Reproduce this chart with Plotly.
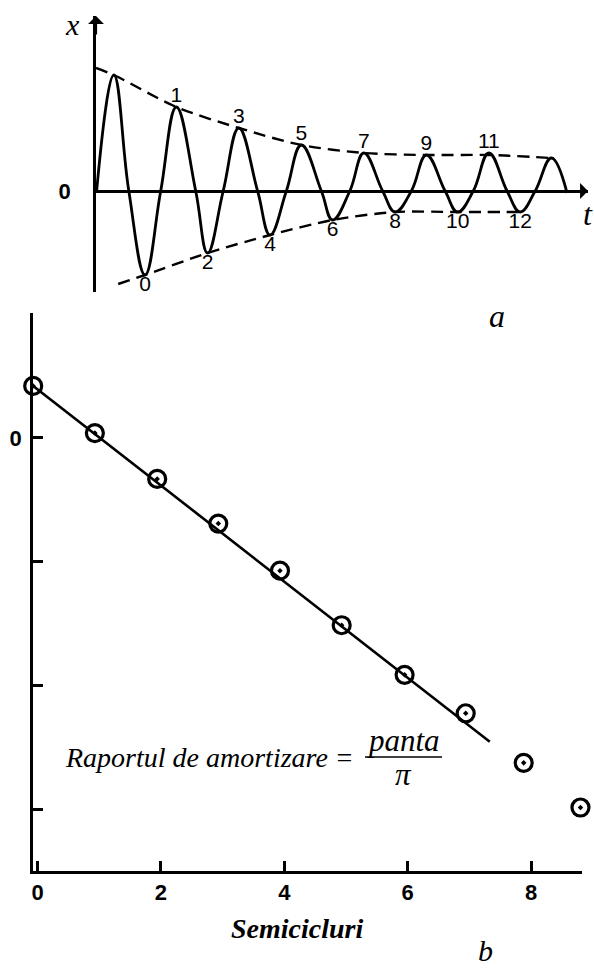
import plotly.graph_objects as go

# ---------------- data: panel a (damped oscillation) ----------------
# extrema (half-cycle index k, amplitude) ; k = -1 and 13 are unlabeled
peak_t = [-1, 1, 3, 5, 7, 9, 11, 13]
peak_x = [11.6, 8.4, 6.3, 4.6, 3.8, 3.6, 3.8, 3.3]
trough_t = [0, 2, 4, 6, 8, 10, 12]
trough_x = [-8.4, -6.2, -4.4, -2.9, -2.1, -2.1, -2.1]
# zero crossings of the trace (plus start and end of the drawn curve)
cross_t = [-1.55, -0.52, 0.5, 1.62, 2.5, 3.6, 4.52, 5.64, 6.55, 7.6, 8.52, 9.6, 10.5, 11.58, 12.48]
cross_x = [0.0] * len(cross_t)
end_t = [13.5]
end_x = [-0.2]

upper_env_t = [-1.57, -1, 1, 3, 5, 7, 9, 11, 13]
upper_env_x = [12.3, 11.6, 8.4, 6.3, 4.6, 3.8, 3.6, 3.6, 3.3]
lower_env_t = [-0.86, 0, 2, 4, 6, 8, 10, 12]
lower_env_x = [-9.3, -8.4, -6.2, -4.4, -2.9, -2.1, -2.1, -2.1]

label_up = ["1", "3", "5", "7", "9", "11"]
label_down = ["0", "2", "4", "6", "8", "10", "12"]

# ---------------- data: panel b (log decrement) ----------------
semicycles = [-0.07, 0.93, 1.94, 2.93, 3.93, 4.93, 5.95, 6.94, 7.88, 8.8]
log_amp = [0.42, 0.04, -0.33, -0.69, -1.07, -1.51, -1.91, -2.22, -2.62, -2.98]
fit_x = [-0.07, 7.33]
fit_y = [0.42, -2.45]
b_xticks = [0, 2, 4, 6, 8]
b_yticks = [1, 0, -1, -2, -3]
b_yticktext = ["", "0", "", "", ""]

W, H = 594, 968
def px(x):
    return x / W
def py(y):
    return 1 - y / H

SERIF = "'Liberation Serif', 'Times New Roman', Times, 'DejaVu Serif', serif"
SANS = "'Liberation Sans', Arial, Helvetica, 'DejaVu Sans', sans-serif"
BLACK = "#000000"

# build the waveform point sequence from extrema + crossings
pts = sorted(zip(peak_t + trough_t + cross_t + end_t,
                 peak_x + trough_x + cross_x + end_x))
wave_t = [p[0] for p in pts]
wave_x = [p[1] for p in pts]

fig = go.Figure()

# ---- panel a ----
fig.add_trace(go.Scatter(x=wave_t, y=wave_x, mode="lines",
                         line=dict(color=BLACK, width=2.8, shape="spline", smoothing=1.2),
                         xaxis="x", yaxis="y", hoverinfo="skip"))
fig.add_trace(go.Scatter(x=upper_env_t, y=upper_env_x, mode="lines",
                         line=dict(color=BLACK, width=2.4, dash="12px,7px", shape="spline", smoothing=0.8),
                         xaxis="x", yaxis="y", hoverinfo="skip"))
fig.add_trace(go.Scatter(x=lower_env_t, y=lower_env_x, mode="lines",
                         line=dict(color=BLACK, width=2.4, dash="12px,7px", shape="spline", smoothing=0.8),
                         xaxis="x", yaxis="y", hoverinfo="skip"))
fig.add_trace(go.Scatter(x=peak_t[1:-1], y=peak_x[1:-1], mode="text", text=label_up,
                         textposition="top center",
                         textfont=dict(family=SANS, size=21, color=BLACK),
                         xaxis="x", yaxis="y", cliponaxis=False, hoverinfo="skip"))
fig.add_trace(go.Scatter(x=trough_t, y=trough_x, mode="text", text=label_down,
                         textposition="bottom center",
                         textfont=dict(family=SANS, size=21, color=BLACK),
                         xaxis="x", yaxis="y", cliponaxis=False, hoverinfo="skip"))

# ---- panel b ----
fig.add_trace(go.Scatter(x=fit_x, y=fit_y, mode="lines",
                         line=dict(color=BLACK, width=2.6),
                         xaxis="x2", yaxis="y2", hoverinfo="skip"))
fig.add_trace(go.Scatter(x=semicycles, y=log_amp, mode="markers",
                         marker=dict(symbol="circle-open-dot", size=17, color=BLACK,
                                     line=dict(color=BLACK, width=3.2)),
                         xaxis="x2", yaxis="y2", cliponaxis=False, hoverinfo="skip"))

fig.update_layout(
    width=W, height=H,
    margin=dict(l=0, r=0, t=0, b=0),
    paper_bgcolor="white", plot_bgcolor="rgba(0,0,0,0)",
    showlegend=False,
    font=dict(family=SANS, color=BLACK),
    xaxis=dict(domain=[px(96), px(588)], range=[-1.57, 14.17], visible=False,
               anchor="y"),
    yaxis=dict(domain=[py(292), py(16)], range=[-10.1, 17.5], anchor="x",
               showline=True, linecolor=BLACK, linewidth=2.6,
               zeroline=True, zerolinecolor=BLACK, zerolinewidth=2.6,
               showgrid=False, ticks="", tickvals=[0], ticktext=["0"],
               tickfont=dict(family=SANS, size=22, color=BLACK, weight="bold"),
               ticklabelstandoff=18, automargin=False),
    xaxis2=dict(domain=[px(33), px(582)], range=[-0.073, 8.825], anchor="y2",
                showline=True, linecolor=BLACK, linewidth=2.8,
                showgrid=False, zeroline=False,
                ticks="inside", ticklen=10, tickwidth=2.5, tickcolor=BLACK,
                tickvals=b_xticks,
                tickfont=dict(family=SANS, size=22, color=BLACK, weight="bold"),
                automargin=False),
    yaxis2=dict(domain=[py(871), py(313)], range=[-3.492, 1.008], anchor="x2",
                showline=True, linecolor=BLACK, linewidth=2.8,
                showgrid=False, zeroline=False,
                ticks="inside", ticklen=10, tickwidth=2.5, tickcolor=BLACK,
                tickvals=b_yticks, ticktext=b_yticktext,
                tickfont=dict(family=SANS, size=22, color=BLACK, weight="bold"),
                ticklabelstandoff=4, automargin=False),
)

annotations = [
    # axis arrowheads (panel a)
    dict(x=0, y=1, xref="x domain", yref="y domain", ax=0, ay=20, text="",
         showarrow=True, arrowhead=1, arrowsize=1.2, arrowwidth=2.2, arrowcolor=BLACK),
    dict(x=1, y=0, xref="x domain", yref="y", ax=-18, ay=0, text="",
         showarrow=True, arrowhead=1, arrowsize=1.2, arrowwidth=2.2, arrowcolor=BLACK),
    dict(x=px(72), y=py(24), text="x", font=dict(family=SERIF, size=30, style="italic")),
    dict(x=px(588), y=py(214), text="t", font=dict(family=SERIF, size=32, style="italic")),
    dict(x=px(497), y=py(316), text="a", font=dict(family=SERIF, size=32, style="italic")),
    dict(x=px(485), y=py(950), text="b", font=dict(family=SERIF, size=30, style="italic")),
    dict(x=px(297), y=py(928), text="Semicicluri",
         font=dict(family=SERIF, size=28, style="italic", weight="bold")),
    dict(x=px(63), y=py(757), xanchor="left", text="Raportul de amortizare =",
         font=dict(family=SERIF, size=28, style="italic")),
    dict(x=px(403), y=py(740), text="panta", font=dict(family=SERIF, size=31, style="italic")),
    dict(x=px(403), y=py(774), text="π", font=dict(family=SERIF, size=31, style="italic")),
]
for a in annotations:
    a.setdefault("showarrow", False)
    a.setdefault("xref", "paper")
    a.setdefault("yref", "paper")
    a.setdefault("xanchor", "center")
    a.setdefault("yanchor", "middle")
    a["font"] = dict(color=BLACK, **a.get("font", {}))
fig.update_layout(annotations=annotations)

# fraction bar
fig.add_shape(type="line", xref="paper", yref="paper",
              x0=px(365), x1=px(442), y0=py(757), y1=py(757),
              line=dict(color=BLACK, width=1.5))

fig.write_html("out.html")
